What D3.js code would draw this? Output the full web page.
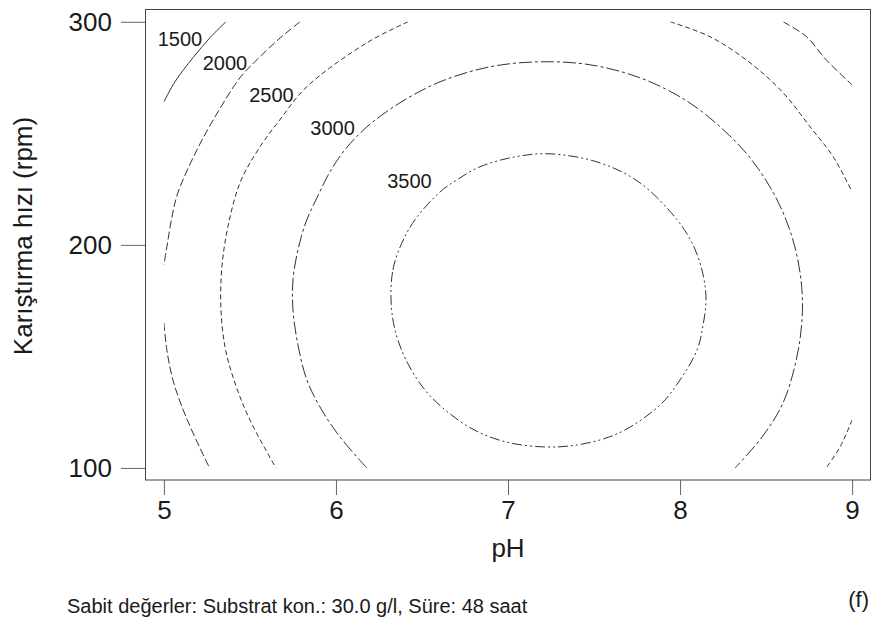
<!DOCTYPE html>
<html>
<head>
<meta charset="utf-8">
<title>Kontur - pH / Karıştırma hızı</title>
<script src="https://d3js.org/d3.v7.min.js"></script>
<style>
  body { margin: 0; background: #fff; }
  svg text { font-family: "Liberation Sans", Arial, sans-serif; fill: #1a1a1a; }
</style>
</head>
<body>
<div id="chart"></div>
<script>
// contour levels and their lines as [pH, rpm]
var levels = [1500, 2000, 2500, 3000, 3500];

var c1500 = [[5.0, 264.1], [5.064, 273.1], [5.169, 283.9], [5.267, 292.8], [5.36, 300]];

var c2000Upper = [[5.791, 300], [5.663, 291.9], [5.529, 282.1], [5.442, 274.9], [5.314, 259.6],
  [5.192, 242.6], [5.081, 223.3], [5.047, 212.6], [5.017, 199.1], [5.0, 191.0]];
var c2000Lower = [[5.0, 165.0], [5.017, 152.9], [5.052, 139.5], [5.105, 127.4], [5.169, 115.7], [5.265, 100]];
var c2000Right = [[8.599, 300], [8.735, 293.3], [8.849, 283.0], [9.0, 271.7]];

var c2500Left = [[6.419, 300], [6.18, 290.6], [5.831, 270.9], [5.674, 256.1], [5.547, 242.6],
  [5.442, 227.8], [5.372, 208.1], [5.337, 190.1], [5.331, 172.2], [5.355, 154.3],
  [5.413, 138.1], [5.5, 121.5], [5.651, 100]];
var c2500Right = [[7.942, 300], [8.174, 293.3], [8.407, 281.6], [8.599, 268.2], [8.756, 252.9],
  [8.89, 239.5], [9.0, 223.8]];
var c2500Corner = [[9.0, 121.5], [8.93, 109.4], [8.849, 100]];

var c3000 = [[6.18, 100], [6.023, 113.9], [5.907, 127.35], [5.831, 139.46], [5.779, 155.16],
  [5.75, 170.85], [5.75, 184.3], [5.779, 197.76], [5.826, 210.31], [5.895, 221.97],
  [5.965, 232.74], [6.052, 242.6], [6.18, 252.91], [6.372, 263.68], [6.605, 273.09],
  [6.895, 279.82], [7.186, 282.06], [7.477, 280.72], [7.767, 274.89], [8.029, 265.02],
  [8.233, 252.91], [8.407, 239.01], [8.552, 221.97], [8.651, 203.59], [8.703, 184.3],
  [8.709, 166.37], [8.669, 146.19], [8.593, 128.25], [8.477, 113.9], [8.32, 100]];

var c3500 = [[6.32, 175.34], [6.331, 188.79], [6.378, 200.0], [6.459, 211.21], [6.599, 223.32],
  [6.703, 229.15], [6.837, 234.98], [7.041, 239.46], [7.244, 240.81], [7.535, 236.77],
  [7.767, 227.8], [7.983, 211.21], [8.081, 199.1], [8.134, 186.55], [8.151, 175.34],
  [8.134, 164.13], [8.099, 152.91], [8.0, 139.46], [7.884, 128.25], [7.68, 117.04],
  [7.535, 112.56], [7.36, 109.87], [7.215, 109.42], [7.012, 111.21], [6.826, 116.14],
  [6.663, 124.22], [6.517, 134.98], [6.407, 148.43], [6.343, 161.88]];

// where each level's label sits, [pH, rpm]
var labelAt = [[5.093, 289.2], [5.355, 278.5], [5.625, 264.1], [5.98, 249.3], [6.427, 225.6]];

var xTicks = [5, 6, 7, 8, 9];
var yTicks = [100, 200, 300];

var lines = [
  {level: 1500, pts: c1500, closed: false},
  {level: 2000, pts: c2000Upper, closed: false},
  {level: 2000, pts: c2000Lower, closed: false},
  {level: 2000, pts: c2000Right, closed: false},
  {level: 2500, pts: c2500Left, closed: false},
  {level: 2500, pts: c2500Right, closed: false},
  {level: 2500, pts: c2500Corner, closed: false},
  {level: 3000, pts: c3000, closed: false},
  {level: 3500, pts: c3500, closed: true}
];

var dashes = {1500: null, 2000: "8,3", 2500: "5,3", 3000: "13,3,3,3", 3500: "10,3,2,3,2,3"};

var W = 875, H = 626;
var svg = d3.select("#chart").append("svg")
  .attr("width", W)
  .attr("height", H);

var x = d3.scaleLinear().domain([4.89, 9.107]).range([145, 870.5]);
var y = d3.scaleLinear().domain([94.6, 305.5]).range([480, 9.5]);

svg.append("defs").append("clipPath").attr("id", "region")
  .append("rect")
  .attr("x", x(5)).attr("y", y(300))
  .attr("width", x(9) - x(5)).attr("height", y(100) - y(300));

// contour lines
var open = d3.line().x(function(d) { return x(d[0]); }).y(function(d) { return y(d[1]); })
  .curve(d3.curveCatmullRom.alpha(0.5));
var shut = d3.line().x(function(d) { return x(d[0]); }).y(function(d) { return y(d[1]); })
  .curve(d3.curveCatmullRomClosed.alpha(0.5));

svg.append("g").attr("clip-path", "url(#region)")
  .selectAll("path")
  .data(lines)
  .enter()
  .append("path")
  .attr("d", function(d) { return d.closed ? shut(d.pts) : open(d.pts); })
  .attr("fill", "none")
  .attr("stroke", "#333")
  .attr("stroke-width", 1)
  .attr("stroke-dasharray", function(d) { return dashes[d.level]; });

svg.append("g")
  .selectAll("text")
  .data(levels)
  .enter()
  .append("text")
  .attr("x", function(d, i) { return x(labelAt[i][0]); })
  .attr("y", function(d, i) { return y(labelAt[i][1]); })
  .attr("text-anchor", "middle")
  .style("font-size", "20px")
  .text(function(d) { return d; });

// frame
svg.append("rect")
  .attr("x", 145.5).attr("y", 9.5)
  .attr("width", 725).attr("height", 470.5)
  .attr("fill", "none")
  .attr("stroke", "#444")
  .attr("stroke-width", 1);

// axes
var yAxis = svg.append("g")
  .attr("transform", "translate(145,0)")
  .call(d3.axisLeft(y).tickValues(yTicks).tickSize(24).tickPadding(9).tickFormat(d3.format("d")));
yAxis.select(".domain").remove();
yAxis.selectAll("line").attr("stroke", "#666");
yAxis.selectAll("text").style("font-size", "26px").style("font-family", "Liberation Sans, Arial, sans-serif").attr("fill", "#1a1a1a");

var xAxis = svg.append("g")
  .attr("transform", "translate(0,480)")
  .call(d3.axisBottom(x).tickValues(xTicks).tickSize(15).tickPadding(6).tickFormat(d3.format("d")));
xAxis.select(".domain").remove();
xAxis.selectAll("line").attr("stroke", "#666");
xAxis.selectAll("text").style("font-size", "26px").style("font-family", "Liberation Sans, Arial, sans-serif").attr("fill", "#1a1a1a");

// titles
svg.append("text")
  .attr("x", (x(5) + x(9)) / 2)
  .attr("y", 557)
  .attr("text-anchor", "middle")
  .style("font-size", "26px")
  .text("pH");

svg.append("text")
  .attr("transform", "translate(32,236) rotate(-90)")
  .attr("text-anchor", "middle")
  .style("font-size", "26px")
  .text("Karıştırma hızı (rpm)");

svg.append("text")
  .attr("x", 67)
  .attr("y", 613)
  .style("font-size", "20px")
  .text("Sabit değerler: Substrat kon.: 30.0 g/l, Süre: 48 saat");

svg.append("text")
  .attr("x", 869)
  .attr("y", 607)
  .attr("text-anchor", "end")
  .style("font-size", "22px")
  .text("(f)");
</script>
</body>
</html>
